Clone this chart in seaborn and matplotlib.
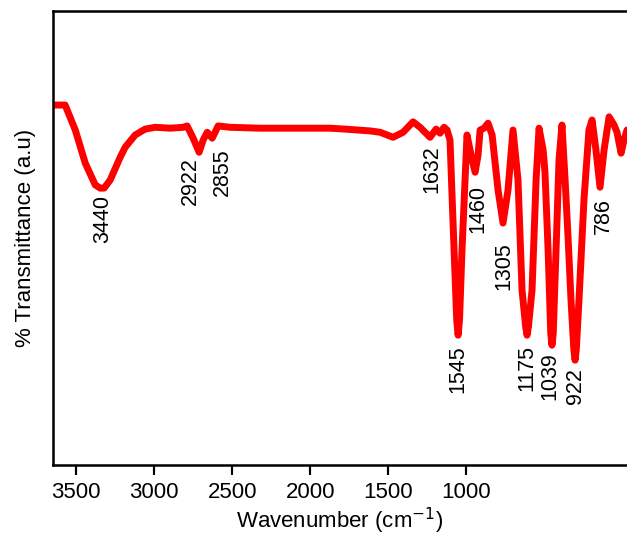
import matplotlib
matplotlib.use("Agg")
import matplotlib.pyplot as plt
import seaborn as sns
import numpy as np
import pandas as pd

# spectrum (axis units as drawn)
wavenumber = [3647, 3571, 3506, 3442, 3378, 3346, 3321, 3282, 3218, 3186, 3122, 3058,
              2994, 2897, 2814, 2789, 2750, 2712, 2686, 2660, 2628, 2590, 2513, 2321,
              2064, 1872, 1776, 1615, 1551, 1468, 1404, 1340, 1295, 1231, 1192, 1167,
              1141, 1122, 1103, 1077, 1060, 1051, 1042, 1026, 994, 968, 942, 923, 910,
              885, 859, 833, 795, 763, 731, 699, 667, 641, 618, 609, 600, 577, 551,
              532, 506, 494, 474, 457, 449, 441, 423, 404, 385, 365, 346, 327, 309,
              301, 293, 276, 244, 212, 192, 167, 141, 115, 83, 51, 32, 6, -13, -32]
transmittance = [79.3, 79.3, 73.8, 66.5, 61.7, 61.0, 61.0, 62.8, 67.8, 70.0, 72.7, 74.0,
                 74.4, 74.2, 74.4, 74.7, 72.0, 68.9, 71.6, 73.3, 72.0, 74.7, 74.4, 74.2,
                 74.2, 74.2, 74.0, 73.6, 73.3, 72.2, 73.3, 75.6, 74.4, 72.2, 74.0, 73.1,
                 74.4, 73.8, 71.6, 47.4, 32.0, 28.6, 32.0, 47.4, 72.7, 68.3, 64.5, 68.3, 73.8,
                 74.2, 75.3, 72.7, 60.6, 53.3, 60.6, 73.8, 62.8, 38.5, 30.5, 28.6, 30.5, 38.5, 62.8,
                 74.2, 69.4, 64.5, 47.4, 29.0, 26.4, 29.0, 47.4, 67.2, 74.9, 62.8, 50.2, 36.3, 25.5,
                 23.1, 25.5, 36.3, 58.4, 73.8, 76.0, 69.4, 61.2, 69.4, 76.7, 74.9, 73.3, 68.7, 71.6, 73.8]

# peak labels and where they sit
peak_labels = ["3440", "2922", "2855", "1632", "1460", "1305", "1545", "1175", "1039", "922", "786"]
label_x = [3333, 2769, 2564, 1218, 923, 757, 1051, 609, 462, 301, 122]
label_y = [59.5, 67.8, 69.8, 70.5, 61.7, 49.1, 26.4, 26.4, 24.9, 21.4, 58.8]

xticks = [3500, 3000, 2500, 2000, 1500, 1000]

sns.set_style("ticks")
plt.rcParams['font.family'] = ['Liberation Sans', 'DejaVu Sans']
plt.rcParams['text.color'] = 'black'
plt.rcParams['axes.labelcolor'] = 'black'
plt.rcParams['xtick.color'] = 'black'

df = pd.DataFrame({'Wavenumber': wavenumber, 'T': transmittance})

fig = plt.figure(figsize=(6.27, 5.43), dpi=100)
ax = fig.add_axes([0.084, 0.1436, 0.916, 0.836])

sns.lineplot(data=df, x='Wavenumber', y='T', sort=False, estimator=None,
             color='#ff0000', linewidth=5, ax=ax)
ax.lines[0].set_solid_joinstyle('round')
ax.lines[0].set_solid_capstyle('round')

for lab, lx, ly in zip(peak_labels, label_x, label_y):
    ax.text(lx, ly, lab, rotation=90, ha='center', va='top', fontsize=15.5, color='black')

ax.set_xlim(3651, -32)
ax.set_ylim(0, 100)
ax.set_xticks(xticks)
ax.set_xticklabels([str(t) for t in xticks], fontsize=16)
ax.set_yticks([])
for side in ['left', 'bottom', 'top']:
    ax.spines[side].set_linewidth(1.8)
    ax.spines[side].set_color('black')
ax.spines['right'].set_visible(False)

ax.set_xlabel('Wavenumber (cm$^{-1}$)', fontsize=16, labelpad=2)
ax.set_ylabel('% Transmittance (a.u)', fontsize=16, labelpad=12)

ax.tick_params(axis='x', which='major', bottom=True, direction='out', length=7,
               width=1.5, pad=5, color='black', labelcolor='black')
# tick marks would not render here, so draw them as short lines under the spine
ax.vlines(xticks, -0.018, 0, transform=ax.get_xaxis_transform(), clip_on=False,
          colors='black', linewidth=1.5)

fig.savefig('out.png', dpi=100)
